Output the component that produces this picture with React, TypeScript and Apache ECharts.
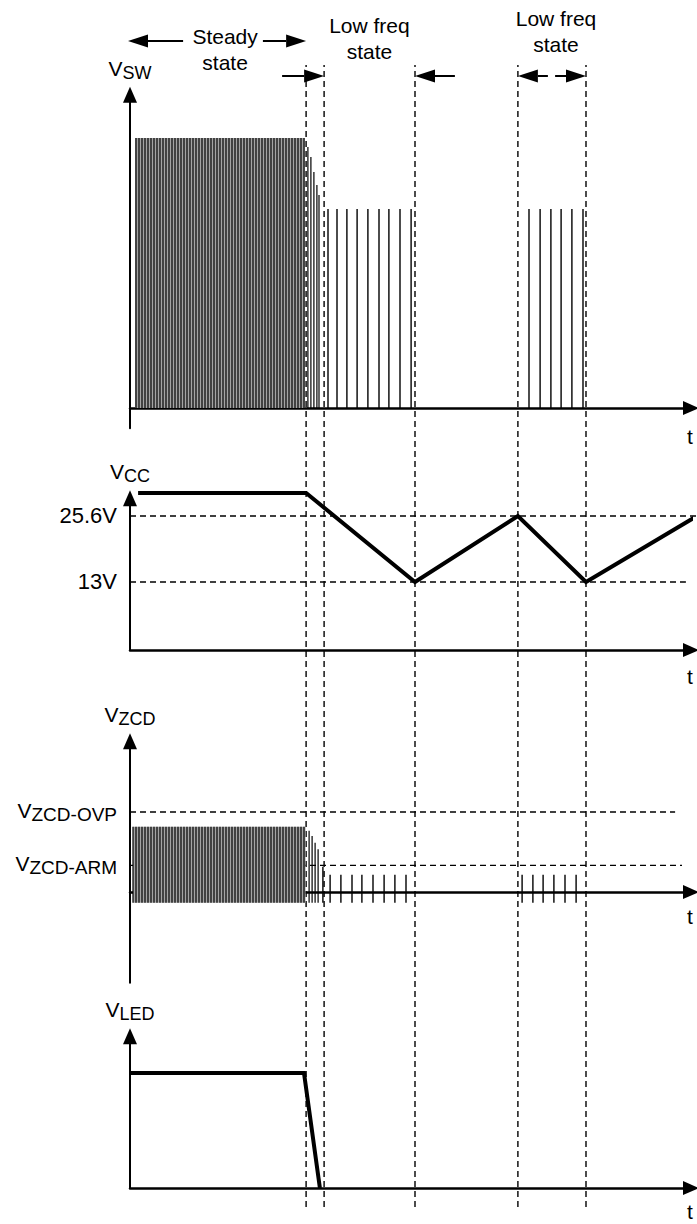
import React, { useEffect, useRef } from "react";
import * as echarts from "echarts";

const FONT = "'Liberation Sans', Arial, Helvetica, sans-serif";

// ---- time axis (arbitrary units) ----
const T_MAX = 187;
// vertical dashed event lines
const EVENTS_T = [58.7, 64.7, 95, 129.3, 152];

// ---- V_SW ----
const swSteadyT = [2, 3, 4, 5, 6, 7, 8, 9, 10, 11, 12, 13, 14, 15, 16, 17, 18, 19, 20, 21, 22, 23, 24, 25, 26, 27, 28, 29, 30, 31, 32, 33, 34, 35, 36, 37, 38, 39, 40, 41, 42, 43, 44, 45, 46, 47, 48, 49, 50, 51, 52, 53, 54, 55, 56, 57, 58];
const swSteadyTop = 100;
const swDecayT = [59.3, 60.3, 61.3, 62.3, 63];
const swDecayTop = [96.7, 93, 87.4, 82.6, 78.9];
const swLowT = [66, 69, 72.3, 75.7, 79.3, 83, 86.3, 90, 93.7, 133, 136.7, 140.3, 143.7, 147.3, 151];
const swLowTop = 73.7;
const swBand = [1.7, 58.3, 0, 100];

// ---- V_CC ----
const vccT = [2.7, 58.7, 95, 129.3, 152, 189];
const vccV = [30, 30, 13, 25.6, 13, 25.6];
const vccLevels = [25.6, 13];
const vccLevelEnd = [189, 185.3];

// ---- V_ZCD ----
const zcdSteadyT = [1, 2, 3, 4, 5, 6, 7, 8, 9, 10, 11, 12, 13, 14, 15, 16, 17, 18, 19, 20, 21, 22, 23, 24, 25, 26, 27, 28, 29, 30, 31, 32, 33, 34, 35, 36, 37, 38, 39, 40, 41, 42, 43, 44, 45, 46, 47, 48, 49, 50, 51, 52, 53, 54, 55, 56, 57, 58];
const zcdSteadyTop = 2.45;
const zcdBottom = -0.4;
const zcdDecayT = [59.7, 60.7, 61.7, 62.7];
const zcdDecayTop = [2.3, 2.1, 1.85, 1.6];
const zcdLowT = [64.3, 66.7, 70.3, 74, 77.3, 81, 84.7, 88.3, 92, 130.7, 134.3, 137.7, 141.3, 145, 148.7];
const zcdLowTop = [0.95, 0.65, 0.65, 0.65, 0.65, 0.65, 0.65, 0.65, 0.65, 0.65, 0.65, 0.65, 0.65, 0.65, 0.65];
const zcdBand = [1, 58.5, -0.4, 2.45];
const zcdLevels = [3, 1];
const zcdLevelNames = ["ZCD-OVP", "ZCD-ARM"];
const zcdLevelEnd = [181.7, 184];

// ---- V_LED ----
const ledT = [0, 58, 63.3];
const ledV = [1, 1, 0];

// ---- annotations ----
const labelT = [31.7, 79.8, 142];
const labelText = ["Steady\nstate", "Low freq\nstate", "Low freq\nstate"];
const arrowFromT = [17.7, 44.3, 50.7, 108.3, 139.3, 141.7];
const arrowToT = [0, EVENTS_T[0], EVENTS_T[1], EVENTS_T[2], EVENTS_T[3], EVENTS_T[4]];

const BLACK = "#000";

function vlineRender(lw: number) {
  return (_p: any, api: any) => {
    const a = api.coord([api.value(0), api.value(1)]);
    const b = api.coord([api.value(0), api.value(2)]);
    return {
      type: "line",
      shape: { x1: a[0], y1: a[1], x2: b[0], y2: b[1] },
      style: { stroke: BLACK, lineWidth: lw },
    };
  };
}

function bandRender(fill: string) {
  return (_p: any, api: any) => {
    const a = api.coord([api.value(0), api.value(3)]);
    const b = api.coord([api.value(1), api.value(2)]);
    return {
      type: "rect",
      shape: { x: a[0], y: a[1], width: b[0] - a[0], height: b[1] - a[1] },
      style: { fill },
    };
  };
}

function hdashRender(_p: any, api: any) {
  const a = api.coord([0, api.value(0)]);
  const b = api.coord([api.value(1), api.value(0)]);
  return {
    type: "line",
    shape: { x1: a[0], y1: a[1], x2: b[0], y2: b[1] },
    style: { stroke: BLACK, lineWidth: 1.4, lineDash: [6, 4] },
  };
}

function vdashRender(_p: any, api: any) {
  const a = api.coord([api.value(0), 0]);
  const b = api.coord([api.value(0), 1]);
  return {
    type: "line",
    shape: { x1: a[0], y1: a[1], x2: b[0], y2: b[1] },
    style: { stroke: BLACK, lineWidth: 1.4, lineDash: [6, 4] },
  };
}

const richName = {
  v: { fontSize: 21, fontFamily: FONT, color: BLACK, lineHeight: 24, verticalAlign: "bottom", padding: [0, 0, 3, 0] },
  s: { fontSize: 18, fontFamily: FONT, color: BLACK, lineHeight: 24, verticalAlign: "bottom" },
};
const richLevel = {
  v: { fontSize: 21, fontFamily: FONT, color: BLACK, lineHeight: 24, verticalAlign: "bottom", padding: [0, 0, 3, 0] },
  s: { fontSize: 19, fontFamily: FONT, color: BLACK, lineHeight: 24, verticalAlign: "bottom" },
};

function xAxisFor(grid: number, padTop: number) {
  return {
    type: "value",
    gridIndex: grid,
    min: 0,
    max: T_MAX,
    axisLine: {
      show: true,
      onZero: true,
      lineStyle: { color: BLACK, width: 2.5 },
      symbol: ["none", "triangle"],
      symbolSize: [14, 16],
    },
    axisTick: { show: false },
    axisLabel: { show: false },
    splitLine: { show: false },
    name: "t",
    nameLocation: "end",
    nameGap: -4,
    nameTextStyle: {
      fontSize: 21,
      fontFamily: FONT,
      color: BLACK,
      align: "left",
      verticalAlign: "top",
      padding: [padTop, 0, 0, 0],
    },
  };
}

function yAxisFor(grid: number, min: number, max: number, sub: string, extra: any = {}) {
  return {
    type: "value",
    gridIndex: grid,
    min,
    max,
    axisLine: {
      show: true,
      onZero: false,
      lineStyle: { color: BLACK, width: 2 },
      symbol: ["none", "triangle"],
      symbolSize: [14, 16],
    },
    axisTick: { show: false },
    axisLabel: { show: false },
    splitLine: { show: false },
    name: `{v|V}{s|${sub}}`,
    nameLocation: "end",
    nameGap: 13,
    nameTextStyle: { rich: richName, align: "center" },
    ...extra,
  };
}

export default function App() {
  const ref = useRef<HTMLDivElement>(null);

  useEffect(() => {
    if (!ref.current) return;
    const chart = echarts.init(ref.current, null, { renderer: "svg" });

    const option: any = {
      animation: false,
      backgroundColor: "#fff",
      textStyle: { fontFamily: FONT },
      grid: [
        { left: 130, right: 6, top: 94.8, height: 333.45 },
        { left: 130, right: 6, top: 498.2, height: 151.8 },
        { left: 130, right: 6, top: 741.3, height: 241.4 },
        { left: 130, right: 6, top: 1036.2, height: 151.8 },
        { left: 130, right: 6, top: 65, bottom: 17 },
      ],
      xAxis: [
        xAxisFor(0, 18),
        xAxisFor(1, 16),
        xAxisFor(2, 14),
        xAxisFor(3, 13),
        { type: "value", gridIndex: 4, min: 0, max: T_MAX, show: false },
      ],
      yAxis: [
        yAxisFor(0, -7.5, 116, "SW"),
        yAxisFor(1, 0, 29, "CC", {
          axisLabel: {
            show: true,
            customValues: vccLevels,
            formatter: (v: number) => `${v}V`,
            fontSize: 22,
            fontFamily: FONT,
            color: BLACK,
            margin: 13,
          },
        }),
        yAxisFor(2, -3.4, 5.65, "ZCD", {
          axisLabel: {
            show: true,
            customValues: zcdLevels,
            formatter: (v: number) => `{v|V}{s|${zcdLevelNames[zcdLevels.indexOf(v)]}}`,
            margin: 13,
            rich: richLevel,
          },
        }),
        yAxisFor(3, 0, 1.32, "LED"),
        { type: "value", gridIndex: 4, min: 0, max: 1, show: false },
      ],
      series: [
        // dashed event lines across all panels
        {
          type: "custom",
          xAxisIndex: 4,
          yAxisIndex: 4,
          data: EVENTS_T.map((t) => [t]),
          renderItem: vdashRender,
          z: 1,
        },
        // V_SW
        {
          type: "custom",
          xAxisIndex: 0,
          yAxisIndex: 0,
          data: [swBand],
          renderItem: bandRender("#a4a4a4"),
          z: 2,
        },
        {
          type: "custom",
          xAxisIndex: 0,
          yAxisIndex: 0,
          data: [
            ...swSteadyT.map((t) => [t, 0, swSteadyTop]),
            ...swDecayT.map((t, i) => [t, 0, swDecayTop[i]]),
          ],
          renderItem: vlineRender(1.2),
          z: 3,
        },
        {
          type: "custom",
          xAxisIndex: 0,
          yAxisIndex: 0,
          data: swLowT.map((t) => [t, 0, swLowTop]),
          renderItem: vlineRender(1.4),
          z: 3,
        },
        // V_CC
        {
          type: "custom",
          xAxisIndex: 1,
          yAxisIndex: 1,
          data: vccLevels.map((v, i) => [v, vccLevelEnd[i]]),
          renderItem: hdashRender,
          z: 2,
        },
        {
          type: "line",
          xAxisIndex: 1,
          yAxisIndex: 1,
          data: vccT.map((t, i) => [t, vccV[i]]),
          showSymbol: false,
          symbol: "none",
          clip: false,
          lineStyle: { color: BLACK, width: 4, join: "miter", cap: "butt" },
          z: 4,
        },
        // V_ZCD
        {
          type: "custom",
          xAxisIndex: 2,
          yAxisIndex: 2,
          data: zcdLevels.map((v, i) => [v, zcdLevelEnd[i]]),
          renderItem: hdashRender,
          z: 2,
        },
        {
          type: "custom",
          xAxisIndex: 2,
          yAxisIndex: 2,
          data: [zcdBand],
          renderItem: bandRender("#a4a4a4"),
          z: 2,
        },
        {
          type: "custom",
          xAxisIndex: 2,
          yAxisIndex: 2,
          data: [
            ...zcdSteadyT.map((t) => [t, zcdBottom, zcdSteadyTop]),
            ...zcdDecayT.map((t, i) => [t, zcdBottom, zcdDecayTop[i]]),
          ],
          renderItem: vlineRender(1.2),
          z: 3,
        },
        {
          type: "custom",
          xAxisIndex: 2,
          yAxisIndex: 2,
          data: zcdLowT.map((t, i) => [t, zcdBottom, zcdLowTop[i]]),
          renderItem: vlineRender(1.4),
          z: 3,
        },
        // V_LED
        {
          type: "line",
          xAxisIndex: 3,
          yAxisIndex: 3,
          data: ledT.map((t, i) => [t, ledV[i]]),
          showSymbol: false,
          symbol: "none",
          clip: false,
          lineStyle: { color: BLACK, width: 4, join: "miter", cap: "butt" },
          z: 4,
        },
      ],
    };

    chart.setOption(option);

    const X = (t: number) => (chart.convertToPixel({ gridIndex: 0 } as any, [t, 0]) as number[])[0];
    const rowY = [41, 41, 76, 76, 76, 76];
    const labelY = [49, 38.5, 31];
    const graphic: any[] = [];
    labelT.forEach((t, i) => {
      graphic.push({
        type: "text",
        x: X(t),
        y: labelY[i],
        style: {
          text: labelText[i],
          fontSize: 21,
          fontFamily: FONT,
          fill: BLACK,
          align: "center",
          verticalAlign: "middle",
          lineHeight: 26,
        },
      });
    });
    arrowFromT.forEach((ft, i) => {
      const x1 = X(ft);
      let x2 = X(arrowToT[i]);
      if (i === 0) x2 -= 2;
      const y = rowY[i];
      const dir = Math.sign(x2 - x1);
      const base = x2 - dir * 20;
      graphic.push({
        type: "line",
        shape: { x1, y1: y, x2: base, y2: y },
        style: { stroke: BLACK, lineWidth: 2 },
      });
      graphic.push({
        type: "polygon",
        shape: { points: [[x2, y], [base, y - 6.5], [base, y + 6.5]] },
        style: { fill: BLACK },
      });
    });
    chart.setOption({ graphic });

    return () => chart.dispose();
  }, []);

  return (
    <div
      ref={ref}
      style={{ position: "fixed", left: 0, top: 0, width: 697, height: 1224, background: "#fff" }}
    />
  );
}
